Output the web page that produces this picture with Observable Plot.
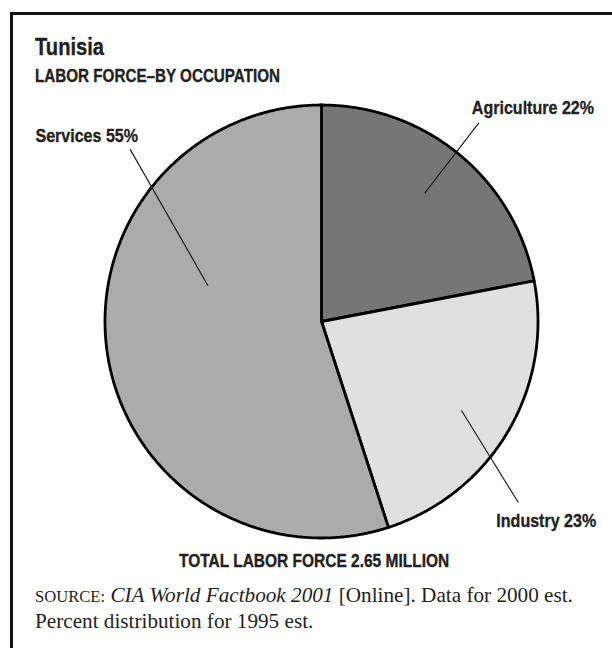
<!DOCTYPE html>
<html><head><meta charset="utf-8">
<script src="https://cdn.jsdelivr.net/npm/d3@7"></script>
<script src="https://cdn.jsdelivr.net/npm/@observablehq/plot@0.6"></script>
<style>
body{margin:0;background:#fff;width:612px;height:648px;overflow:hidden;position:relative;}
#frame{position:absolute;left:10px;top:12px;width:640px;height:680px;border-top:3px solid #111;border-left:3px solid #111;}
.hd{position:absolute;font-family:"Liberation Sans",Arial,sans-serif;font-weight:bold;color:#231f20;line-height:1;white-space:nowrap;transform-origin:left center;-webkit-text-stroke:0.35px #231f20;}
#title{left:35px;top:34.5px;font-size:24px;transform:scaleX(0.84);}
#subtitle{left:35px;top:67px;font-size:18px;transform:scaleX(0.845);}
#total{left:179px;top:553.2px;font-size:17.5px;transform:scaleX(0.885);}
#source{position:absolute;left:35px;top:583.4px;font-family:"Liberation Serif","Times New Roman",serif;font-size:21.2px;line-height:25px;color:#231f20;white-space:nowrap;}
#source .sc{font-size:16.6px;}
#chart{position:absolute;left:0;top:88px;}
</style></head>
<body>
<div id="frame"></div>
<div id="title" class="hd"></div>
<div id="subtitle" class="hd"></div>
<div id="chart"></div>
<div id="total" class="hd"></div>
<div id="source"><span class="sc">SOURCE:</span> <i>CIA World Factbook 2001</i> [Online]. Data for 2000 est.<br>Percent distribution for 1995 est.</div>
<script>
// ---- data ----
const categories = ["Agriculture", "Industry", "Services"];
const shares = [22, 23, 55];
const labelTexts = ["Agriculture 22%", "Industry 23%", "Services 55%"];
const titleText = "Tunisia";
const subtitleText = "LABOR FORCE\u2013BY OCCUPATION";
const totalText = "TOTAL LABOR FORCE 2.65 MILLION";

// ---- styles / layout ----
const sliceColors = ["#767676", "#e0e0e0", "#ababab"];
// leader line: angles (deg, clockwise from top) and radius fractions; label offsets in px
const leaderLayout = [
  {a1: 38.8, r1: 0.76, a2: 38.4, r2: 1.17, anchor: "start", dx: -7, dy: -9},
  {a1: 122.4, r1: 0.765, a2: 132.6, r2: 1.235, anchor: "start", dx: -22, dy: 25},
  {a1: 287.5, r1: 0.55, a2: 312, r2: 1.19, anchor: "end", dx: 8, dy: -7}
];
const labelScaleX = 0.845;

document.getElementById("title").textContent = titleText;
document.getElementById("subtitle").textContent = subtitleText;
document.getElementById("total").textContent = totalText;

const arcs = d3.pie().sort(null).value(d => d)(shares);
const polys = [];
arcs.forEach((a, i) => {
  const name = categories[i];
  polys.push({name, x: 0, y: 0});
  const n = Math.max(2, Math.ceil((a.endAngle - a.startAngle) / (Math.PI / 360)));
  for (let k = 0; k <= n; k++) {
    const t = a.startAngle + (a.endAngle - a.startAngle) * k / n;
    polys.push({name, x: Math.sin(t), y: Math.cos(t)});
  }
  polys.push({name, x: 0, y: 0});
});

const rad = d => d * Math.PI / 180;
const leaders = leaderLayout.map((l, i) => ({
  name: categories[i],
  text: labelTexts[i],
  x1: l.r1 * Math.sin(rad(l.a1)), y1: l.r1 * Math.cos(rad(l.a1)),
  x2: l.r2 * Math.sin(rad(l.a2)), y2: l.r2 * Math.cos(rad(l.a2)),
  anchor: l.anchor, dx: l.dx, dy: l.dy
}));

const font = '"Liberation Sans",Arial,sans-serif';
const chart = Plot.plot({
  width: 612,
  height: 460,
  margin: 0,
  x: {domain: [-1, 1], range: [104.5, 537.5], axis: null},
  y: {domain: [-1, 1], range: [449.5, 16.5], axis: null},
  color: {domain: categories, range: sliceColors},
  style: {background: "none", overflow: "visible", fontFamily: font},
  marks: [
    Plot.line(polys, {x: "x", y: "y", z: "name", fill: "name", stroke: "#000", strokeWidth: 2.8, strokeLinejoin: "round"}),
    Plot.link(leaders, {x1: "x1", y1: "y1", x2: "x2", y2: "y2", stroke: "#231f20", strokeWidth: 1.2}),
    ...leaders.map(l => Plot.text([l], {x: "x2", y: "y2", text: "text", textAnchor: l.anchor, lineAnchor: "bottom", dx: l.dx, dy: l.dy, fontSize: 19, fontWeight: "bold", fill: "#231f20", stroke: "#231f20", strokeWidth: 0.35}))
  ]
});
// condense the label glyphs horizontally around their anchor
chart.querySelectorAll("text").forEach(t => {
  const tr = t.getAttribute("transform");
  if (tr) t.setAttribute("transform", tr + ` scale(${labelScaleX},1)`);
  else {
    const x = +t.getAttribute("x") || 0;
    t.setAttribute("transform", `translate(${x * (1 - labelScaleX)},0) scale(${labelScaleX},1)`);
  }
});
document.getElementById("chart").appendChild(chart);
</script>
</body></html>
